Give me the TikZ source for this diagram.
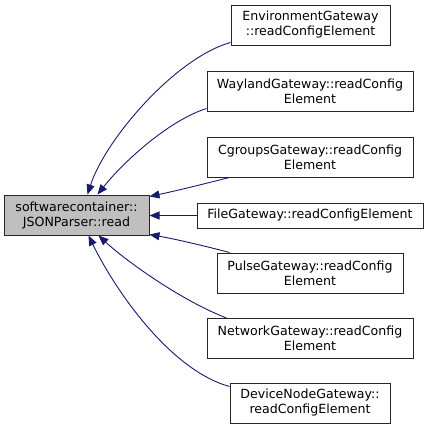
\documentclass[tikz,border=0pt]{standalone}
\usepackage{fontspec}
\setmainfont{DejaVu Sans}
\usetikzlibrary{arrows.meta,calc}
\definecolor{edgeblue}{HTML}{191970}
\definecolor{mainfill}{HTML}{BFBFBF}
\begin{document}
\begin{tikzpicture}[x=1pt,y=-1pt,
  box/.style={draw=black!85,line width=1pt,fill=white,inner sep=0pt,align=center,
    font=\fontsize{12.6}{15}\selectfont},
  edge/.style={draw=edgeblue,line width=0.9pt,
    -{Triangle[length=10pt,width=8pt]}}]
\useasboundingbox (0,0) rectangle (429,431);
\node[box,fill=mainfill,minimum width=145pt,minimum height=40pt] (main) at (76.5,215) {softwarecontainer::\\JSONParser::read};
\node[box,minimum width=159pt,minimum height=40pt] (env) at (310.5,25) {EnvironmentGateway\\::readConfigElement};
\node[box,minimum width=206pt,minimum height=40pt] (way) at (310,91) {WaylandGateway::readConfig\\Element};
\node[box,minimum width=206pt,minimum height=40pt] (cg) at (310,157) {CgroupsGateway::readConfig\\Element};
\node[box,minimum width=226pt,minimum height=25pt] (file) at (310,215.5) {FileGateway::readConfigElement};
\node[box,minimum width=186pt,minimum height=40pt] (pulse) at (310,273) {PulseGateway::readConfig\\Element};
\node[box,minimum width=206pt,minimum height=40pt] (net) at (310,338.5) {NetworkGateway::readConfig\\Element};
\node[box,minimum width=160pt,minimum height=40pt] (dev) at (310,403) {DeviceNodeGateway::\\readConfigElement};

\draw[edge] ($(env.south west)+(0,-3)$) .. controls (175,58) and (105,140) .. ($(main.north west)+(84,0)$);
\draw[edge] ($(way.south west)+(0,-3)$) .. controls (170,120) and (125,160) .. ($(main.north west)+(94,0)$);
\draw[edge] ($(cg.south west)+(23,0)$) .. controls (200,185) and (175,191) .. ($(main.north east)+(0,2)$);
\draw[edge] (file.west) -- (main.east |- file.west);
\draw[edge] ($(pulse.north west)+(13,0)$) .. controls (205,246) and (175,239) .. ($(main.south east)+(0,-1)$);
\draw[edge] ($(net.north west)+(20,0)$) .. controls (180,300) and (125,260) .. ($(main.south west)+(95,0)$);
\draw[edge] ($(dev.north west)+(0,4)$) .. controls (170,370) and (115,290) .. ($(main.south west)+(85,0)$);
\end{tikzpicture}
\end{document}
